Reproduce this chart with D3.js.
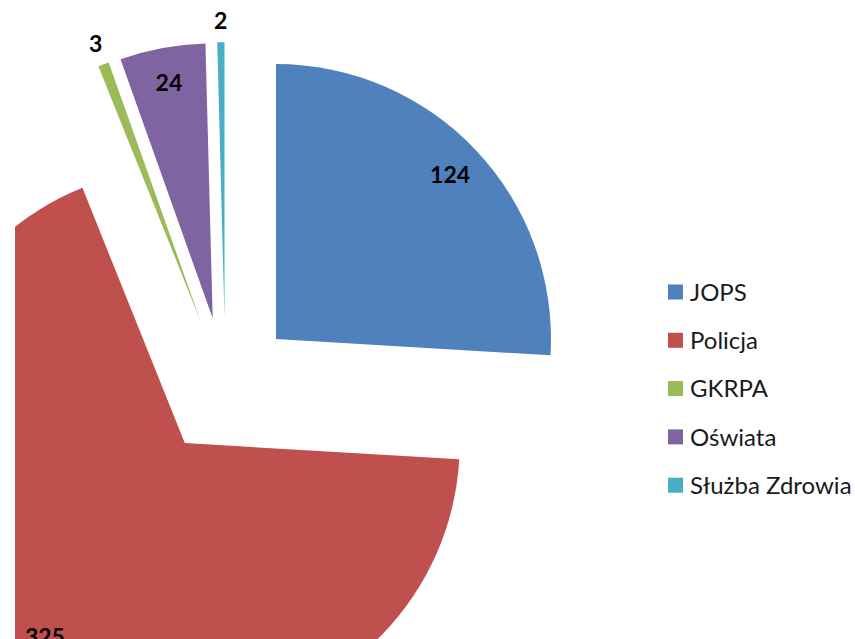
<!DOCTYPE html>
<html>
<head>
<meta charset="utf-8">
<script src="https://cdn.jsdelivr.net/npm/d3@7"></script>
<style>
  body { margin: 0; background: #fff; }
  svg { display: block; }
</style>
</head>
<body>
<script>
// dane wykresu
var kategorie = ["JOPS", "Policja", "GKRPA", "Oświata", "Służba Zdrowia"];
var wartosci = [124, 325, 3, 24, 2];
var kolory = ["#4F81BD", "#C0504D", "#9BBB59", "#8064A2", "#4BACC6"];
// etykiety wewnątrz (true) lub na zewnątrz wycinka
var etykietyWewnatrz = [true, true, false, true, false];

var width = 855, height = 639;
var cx = 225.4, cy = 386.7;   // środek koła
var r = 275;                  // promień
var odsuniecie = 69.5;        // rozsunięcie wycinków

var svg = d3.select("body").append("svg")
    .attr("width", width)
    .attr("height", height);

svg.append("clipPath")
    .attr("id", "obszar")
  .append("rect")
    .attr("x", 15)
    .attr("y", 0)
    .attr("width", width - 15)
    .attr("height", height);

var data = kategorie.map(function(k, i) {
  return {nazwa: k, wartosc: wartosci[i], kolor: kolory[i], wewnatrz: etykietyWewnatrz[i]};
});

var pie = d3.pie()
    .sort(null)
    .value(function(d) { return d.wartosc; });

var arc = d3.arc().innerRadius(0).outerRadius(r);
var arcWew = d3.arc().innerRadius(0.87 * r).outerRadius(0.87 * r);
var arcZew = d3.arc().innerRadius(1.08 * r).outerRadius(1.08 * r);

var g = svg.append("g")
    .attr("clip-path", "url(#obszar)")
    .append("g")
    .attr("transform", "translate(" + cx + "," + cy + ")");

var wycinki = g.selectAll(".wycinek")
    .data(pie(data))
    .enter().append("g")
    .attr("class", "wycinek")
    .attr("transform", function(d) {
      var a = (d.startAngle + d.endAngle) / 2;
      return "translate(" + (odsuniecie * Math.sin(a)) + "," + (-odsuniecie * Math.cos(a)) + ")";
    });

wycinki.append("path")
    .attr("d", arc)
    .attr("fill", function(d) { return d.data.kolor; });

wycinki.append("text")
    .attr("transform", function(d) {
      var p = d.data.wewnatrz ? arcWew.centroid(d) : arcZew.centroid(d);
      return "translate(" + p[0] + "," + p[1] + ")";
    })
    .attr("dy", "0.36em")
    .style("text-anchor", "middle")
    .style("font-family", "Lato, 'DejaVu Sans', sans-serif")
    .style("font-weight", "bold")
    .style("font-size", "23px")
    .attr("fill", "#000")
    .text(function(d) { return d.data.wartosc; });

// legenda
var legenda = svg.append("g")
    .attr("transform", "translate(668,292)");

var wiersz = legenda.selectAll(".wiersz")
    .data(data)
    .enter().append("g")
    .attr("class", "wiersz")
    .attr("transform", function(d, i) { return "translate(0," + (i * 48.3) + ")"; });

wiersz.append("rect")
    .attr("x", 0)
    .attr("y", -7.5)
    .attr("width", 15)
    .attr("height", 15)
    .attr("fill", function(d) { return d.kolor; });

wiersz.append("text")
    .attr("x", 22)
    .attr("dy", "0.36em")
    .style("font-family", "Lato, 'DejaVu Sans', sans-serif")
    .style("font-size", "24px")
    .attr("fill", "#1a1a1a")
    .text(function(d) { return d.nazwa; });
</script>
</body>
</html>
